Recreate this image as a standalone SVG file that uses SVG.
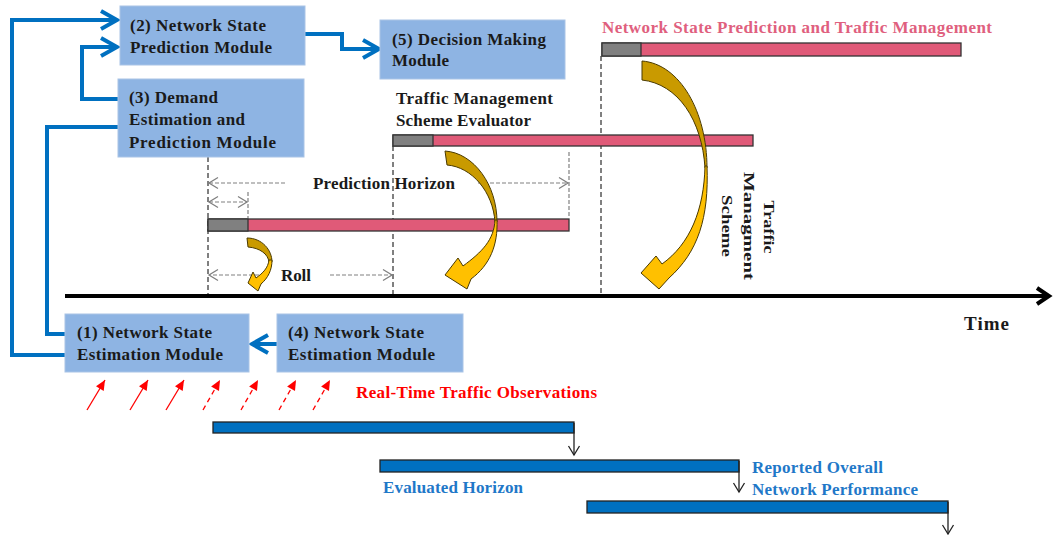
<svg xmlns="http://www.w3.org/2000/svg" width="1054" height="535" viewBox="0 0 1054 535">
<style>
.box{fill:#8EB4E3;stroke:#A9C4E6;stroke-width:1}
.t{font-family:"Liberation Serif","Times New Roman",serif;font-weight:bold;font-size:17px;fill:#1a1a1a}
.blue{fill:none;stroke:#0070C0;stroke-width:4}
.dash{stroke:#000;stroke-width:1;stroke-dasharray:5,3;fill:none}
.gdash{stroke:#808080;stroke-width:1.2;stroke-dasharray:4,2;fill:none}
.gray{fill:#808080;stroke:#333;stroke-width:1.3}
.pink{fill:#E05A78;stroke:#333;stroke-width:1.3}
.bbar{fill:#0070C0;stroke:#222;stroke-width:1.3}
.dark{fill:#C99A00;stroke:#4a3a00;stroke-width:1}
.light{fill:#FFC000;stroke:#4a3a00;stroke-width:1}
.red{stroke:#FF0000;stroke-width:1.3;fill:none}
</style>
<defs>
<marker id="ba" markerUnits="userSpaceOnUse" markerWidth="24" markerHeight="24" viewBox="0 0 24 24" refX="20" refY="12" orient="auto">
<path d="M4,3 L20,12 L4,21" fill="none" stroke="#0070C0" stroke-width="4" stroke-linejoin="miter"/>
</marker>
<marker id="ka" markerUnits="userSpaceOnUse" markerWidth="24" markerHeight="24" viewBox="0 0 24 24" refX="20" refY="12" orient="auto">
<path d="M8,4 L20,12 L8,20" fill="none" stroke="#000" stroke-width="4"/>
</marker>
<marker id="ga" markerUnits="userSpaceOnUse" markerWidth="14" markerHeight="14" viewBox="0 0 14 14" refX="12" refY="7" orient="auto-start-reverse">
<path d="M3,1.5 L12,7 L3,12.5" fill="none" stroke="#808080" stroke-width="1.3"/>
</marker>
<marker id="da" markerUnits="userSpaceOnUse" markerWidth="14" markerHeight="14" viewBox="0 0 14 14" refX="12" refY="7" orient="auto">
<path d="M3,1.5 L12,7 L3,12.5" fill="none" stroke="#222" stroke-width="1.3"/>
</marker>
<marker id="ra" markerUnits="userSpaceOnUse" markerWidth="12" markerHeight="12" viewBox="0 0 12 12" refX="11" refY="6" orient="auto">
<path d="M1,1.5 L11,6 L1,10.5 Z" fill="#FF0000"/>
</marker>
</defs>

<g id="guides">
<line class="dash" x1="208" y1="157" x2="208" y2="296"/>
<line class="dash" x1="393" y1="146" x2="393" y2="296"/>
<line class="dash" x1="601" y1="56" x2="601" y2="296"/>
<line class="gdash" x1="248" y1="192" x2="248" y2="218"/>
<line class="gdash" x1="569" y1="152" x2="569" y2="218"/>
</g>

<g id="bars">
<rect class="pink" x="602" y="43" width="359" height="13"/>
<rect class="gray" x="602" y="43" width="39" height="13"/>
<rect class="pink" x="393" y="135" width="360" height="11"/>
<rect class="gray" x="393" y="135" width="40" height="11"/>
<rect class="pink" x="208" y="219" width="361" height="12"/>
<rect class="gray" x="208" y="219" width="40" height="12"/>
<rect class="bbar" x="213" y="422" width="361" height="11"/>
<rect class="bbar" x="380" y="460" width="359" height="12"/>
<rect class="bbar" x="587" y="501" width="361" height="12"/>
</g>

<g id="dimensions">
<line class="gdash" x1="285" y1="183" x2="209" y2="183" marker-end="url(#ga)"/>
<line class="gdash" x1="478" y1="183" x2="568" y2="183" marker-end="url(#ga)"/>
<line class="gdash" x1="209" y1="202" x2="247" y2="202" marker-start="url(#ga)" marker-end="url(#ga)"/>
<line class="gdash" x1="265" y1="275" x2="209" y2="275" marker-end="url(#ga)"/>
<line class="gdash" x1="330" y1="275" x2="392" y2="275" marker-end="url(#ga)"/>
</g>

<g id="curved-arrows">
<path class="dark" d="M642,61 C680,64 707,112 707,168 L705,168 C702,120 678,84 642,80 Z"/>
<path class="light" d="M707,166 C709,218 698,252 669,278 L659,289 L641,273 L656,256 L662,264 C690,244 704,210 705,166 Z"/>
<path class="dark" d="M445,151 C474,153 497,185 497,222 L495,222 C493,192 472,167 447,165 Z"/>
<path class="light" d="M497,220 C498,245 490,265 471,279 L467,289 L445,275 L458,258 L463,266 C482,252 494,240 495,220 Z"/>
<path class="dark" d="M247,238 C262,238 272,250 272,262 L269,262 C268,254 260,248 248,247 Z"/>
<path class="light" d="M272,260 C272,270 268,278 261,284 L258,291 L248,283 L253,272 L256,278 C263,273 268,268 269,260 Z"/>
</g>

<g id="axis">
<line x1="65" y1="296" x2="1049" y2="296" stroke="#000" stroke-width="4" marker-end="url(#ka)"/>
</g>

<g id="connectors">
<path class="blue" d="M65,355 H12 V20 H117" marker-end="url(#ba)"/>
<path class="blue" d="M118,99 H82 V47 H117" marker-end="url(#ba)"/>
<path class="blue" d="M118,127 H47 V334 H65"/>
<path class="blue" d="M305,34 H342 V49 H379" marker-end="url(#ba)"/>
<path class="blue" d="M277,344 H252" marker-end="url(#ba)"/>
<line x1="574" y1="423" x2="574" y2="455" stroke="#222" stroke-width="1.3" marker-end="url(#da)"/>
<line x1="739" y1="461" x2="739" y2="492" stroke="#222" stroke-width="1.3" marker-end="url(#da)"/>
<line x1="948" y1="502" x2="948" y2="534" stroke="#222" stroke-width="1.3" marker-end="url(#da)"/>
<line class="red" x1="87" y1="410" x2="105" y2="380" marker-end="url(#ra)"/>
<line class="red" x1="130" y1="410" x2="148" y2="380" marker-end="url(#ra)"/>
<line class="red" x1="166" y1="410" x2="184" y2="380" marker-end="url(#ra)"/>
<line class="red" x1="203" y1="410" x2="220" y2="380" stroke-dasharray="5,4" marker-end="url(#ra)"/>
<line class="red" x1="241" y1="410" x2="258" y2="380" stroke-dasharray="5,4" marker-end="url(#ra)"/>
<line class="red" x1="279" y1="410" x2="296" y2="380" stroke-dasharray="5,4" marker-end="url(#ra)"/>
<line class="red" x1="313" y1="410" x2="330" y2="380" stroke-dasharray="5,4" marker-end="url(#ra)"/>
</g>

<g id="node-2">
<rect class="box" x="120" y="6" width="185" height="59"/>
<text class="t" x="130" y="31" textLength="136">(2) Network State</text>
<text class="t" x="130" y="53" textLength="142">Prediction  Module</text>
</g>
<g id="node-3">
<rect class="box" x="118" y="79" width="186" height="78"/>
<text class="t" x="129" y="103" textLength="89">(3) Demand</text>
<text class="t" x="129" y="125" textLength="116">Estimation  and</text>
<text class="t" x="129" y="148" textLength="147">Prediction  Module</text>
</g>
<g id="node-5">
<rect class="box" x="380" y="20" width="185" height="59"/>
<text class="t" x="392" y="45" textLength="154">(5) Decision Making</text>
<text class="t" x="392" y="66" textLength="57">Module</text>
</g>
<g id="node-1">
<rect class="box" x="65" y="314" width="184" height="58"/>
<text class="t" x="77" y="338" textLength="135">(1) Network State</text>
<text class="t" x="77" y="360" textLength="146">Estimation  Module</text>
</g>
<g id="node-4">
<rect class="box" x="277" y="314" width="186" height="58"/>
<text class="t" x="288" y="338" textLength="136">(4) Network State</text>
<text class="t" x="288" y="360" textLength="147">Estimation  Module</text>
</g>

<g id="labels">
<text class="t" x="602" y="33" style="fill:#E0607E" textLength="390">Network State Prediction  and  Traffic  Management</text>
<text class="t" x="396" y="104" textLength="157">Traffic  Management</text>
<text class="t" x="396" y="126" textLength="135">Scheme Evaluator</text>
<text class="t" x="313" y="189" textLength="142">Prediction  Horizon</text>
<text class="t" x="281" y="281" textLength="30">Roll</text>
<text class="t" x="964" y="330" style="font-size:19px" textLength="45">Time</text>
<text class="t" x="356" y="398" style="fill:#FF0000" textLength="241">Real-Time Traffic  Observations</text>
<text class="t" x="383" y="493" style="fill:#1F78C8" textLength="140">Evaluated Horizon</text>
<text class="t" x="752" y="473" style="fill:#1F78C8" textLength="131">Reported Overall</text>
<text class="t" x="752" y="495" style="fill:#1F78C8" textLength="166">Network Performance</text>
<text class="t" transform="translate(764,227) rotate(90)" text-anchor="middle" style="font-size:15px" textLength="53" lengthAdjust="spacingAndGlyphs">Traffic</text>
<text class="t" transform="translate(744,226) rotate(90)" text-anchor="middle" style="font-size:15px" textLength="108" lengthAdjust="spacingAndGlyphs">Managment</text>
<text class="t" transform="translate(722,226) rotate(90)" text-anchor="middle" style="font-size:15px" textLength="62" lengthAdjust="spacingAndGlyphs">Scheme</text>
</g>
</svg>
